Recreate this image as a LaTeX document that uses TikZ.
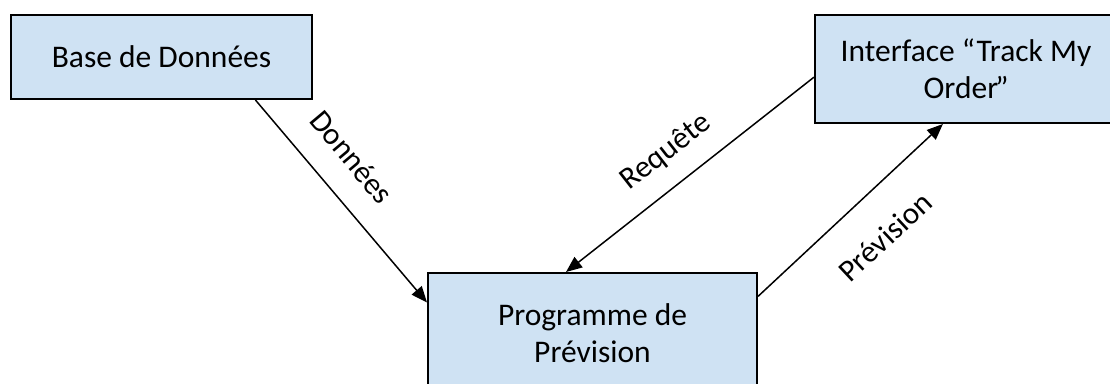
\documentclass[tikz,border=0pt]{standalone}
\usepackage{fontspec}
\setmainfont{Carlito}
\usetikzlibrary{arrows.meta,calc}
\definecolor{boxfill}{RGB}{207,226,243}
\tikzset{
  block/.style={draw=black, line width=2pt, fill=boxfill, rectangle,
    align=center, inner sep=0pt,
    font=\fontsize{31.5}{37}\selectfont},
  flow/.style={line width=1.5pt, -{Triangle[length=16pt,width=13pt]}},
  tag/.style={font=\fontsize{31}{37}\selectfont, inner sep=0pt}
}
\begin{document}
\begin{tikzpicture}[x=1pt,y=-1pt]
  \useasboundingbox (0,0) rectangle (1110,383);
  \begin{scope}
    \clip (0,0) rectangle (1110,383);
    % the three blocks
    \node[block, minimum width=301pt, minimum height=84pt] (db) at (161.5,57) {Base de Données};
    \node[block, minimum width=302pt, minimum height=108pt] (ui) at (966,69) {Interface “Track My\\Order\kern-3pt”};
    \node[block, minimum width=329pt, minimum height=120pt] (prog) at (592.5,333) {Programme de\\Prévision};
    % data flows between blocks
    \draw[flow] ($(db.south west)!0.81!(db.south east)$) -- ($(prog.north west)!0.25!(prog.south west)$);
    \draw[flow] ($(ui.north west)!0.574!(ui.south west)$) -- ($(prog.north west)!0.42!(prog.north east)$);
    \draw[flow] ($(prog.north east)!0.2!(prog.south east)$) -- ($(ui.south west)!0.424!(ui.south east)$);
  \end{scope}
  % flow labels
  \node[tag, rotate=-50] (tdata) at (352,157) {Données};
  \node[tag, rotate=38] (treq) at (666,152) {Requête};
  \node[tag, rotate=43] (tprev) at (885,237) {Prévision};
\end{tikzpicture}
\end{document}
